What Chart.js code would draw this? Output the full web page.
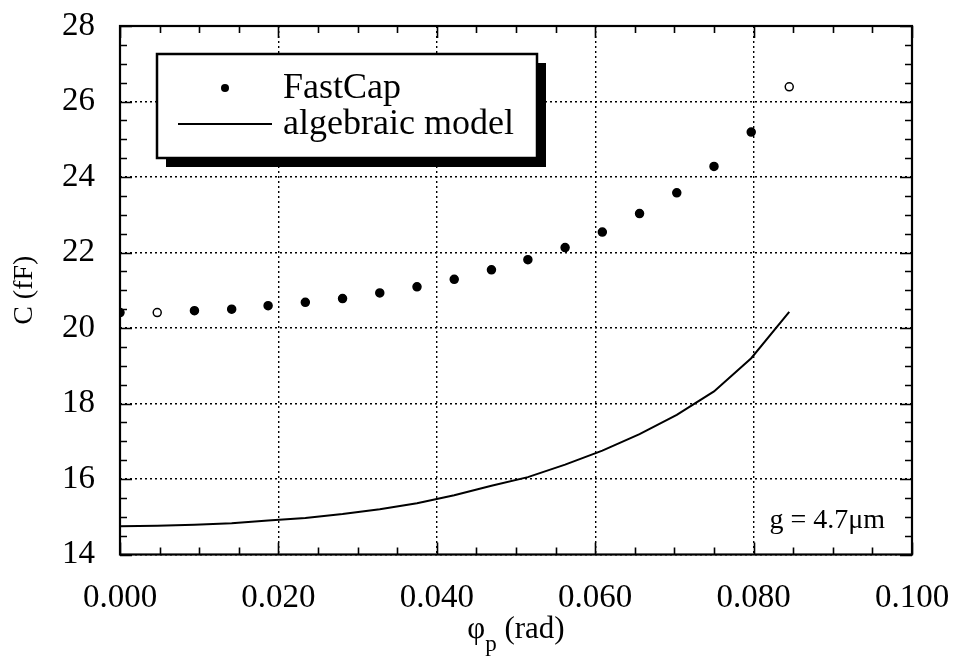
<!DOCTYPE html>
<html>
<head>
<meta charset="utf-8">
<script src="https://cdn.jsdelivr.net/npm/chart.js@4"></script>
<style>
  html, body { margin: 0; padding: 0; background: #fff; }
  #wrap { width: 954px; height: 659px; }
</style>
</head>
<body>
<div id="wrap"><canvas id="capChart" width="954" height="659"></canvas></div>
<script>
// --- data ---
const phiValues = [0.0000, 0.0047, 0.0094, 0.0141, 0.0187, 0.0234, 0.0281, 0.0328, 0.0375,
                   0.0422, 0.0469, 0.0515, 0.0562, 0.0609, 0.0656, 0.0703, 0.0750, 0.0797, 0.0845];
const fastCapValues = [20.41, 20.41, 20.46, 20.50, 20.59, 20.68, 20.78, 20.93, 21.09,
                       21.29, 21.54, 21.81, 22.13, 22.54, 23.03, 23.58, 24.28, 25.19, 26.39];
const modelValues = [14.75, 14.76, 14.79, 14.83, 14.90, 14.97, 15.07, 15.20, 15.36,
                     15.57, 15.82, 16.05, 16.38, 16.75, 17.19, 17.70, 18.32, 19.20, 20.43];
const xTicks = [0, 0.02, 0.04, 0.06, 0.08, 0.1];
const yTicks = [14, 16, 18, 20, 22, 24, 26, 28];
const seriesLabels = ['FastCap', 'algebraic model'];

const serif = "'Liberation Serif', 'DejaVu Serif', serif";

// hollow-looking dots in the scan (2nd and last)
const dotFill = fastCapValues.map((v, i) => (i === 1 || i === fastCapValues.length - 1) ? '#fff' : '#000');

// --- inward ticks (major + minor) on all four sides, and the frame ---
const innerTicks = {
    id: 'innerTicks',
    afterDatasetsDraw(chart) {
        const { ctx, chartArea: a, scales: { x, y } } = chart;
        ctx.save();
        ctx.strokeStyle = '#000';
        ctx.lineWidth = 1.6;
        ctx.beginPath();
        for (let v = 0; v <= 0.1 + 1e-9; v += 0.005) {
            const px = Math.round(x.getPixelForValue(v)) + 0.5;
            const major = Math.abs(v / 0.02 - Math.round(v / 0.02)) < 1e-6;
            const len = major ? 12 : 7;
            ctx.moveTo(px, a.bottom); ctx.lineTo(px, a.bottom - len);
            ctx.moveTo(px, a.top); ctx.lineTo(px, a.top + len);
        }
        for (let v = 14; v <= 28 + 1e-9; v += 0.5) {
            const py = Math.round(y.getPixelForValue(v)) + 0.5;
            const major = Math.abs(v / 2 - Math.round(v / 2)) < 1e-6;
            const len = major ? 12 : 7;
            ctx.moveTo(a.left, py); ctx.lineTo(a.left + len, py);
            ctx.moveTo(a.right, py); ctx.lineTo(a.right - len, py);
        }
        ctx.stroke();
        ctx.lineWidth = 2.2;
        ctx.strokeRect(a.left, a.top, a.right - a.left, a.bottom - a.top);
        ctx.restore();
    }
};

// --- boxed legend with heavy drop shadow, g label, x title with subscript ---
const boxLegend = {
    id: 'boxLegend',
    afterDraw(chart) {
        const { ctx, chartArea: a } = chart;
        const bx = 157, by = 54, bw = 380, bh = 104, sh = 9;
        ctx.save();
        ctx.fillStyle = '#000';
        ctx.fillRect(bx + sh, by + sh, bw, bh);
        ctx.fillStyle = '#fff';
        ctx.fillRect(bx, by, bw, bh);
        ctx.strokeStyle = '#000';
        ctx.lineWidth = 2.5;
        ctx.strokeRect(bx, by, bw, bh);

        ctx.fillStyle = '#000';
        ctx.beginPath();
        ctx.arc(225, 88, 4, 0, Math.PI * 2);
        ctx.fill();
        ctx.lineWidth = 1.8;
        ctx.beginPath();
        ctx.moveTo(178, 124); ctx.lineTo(272, 124);
        ctx.stroke();

        ctx.font = '36px ' + serif;
        ctx.textBaseline = 'alphabetic';
        ctx.textAlign = 'left';
        ctx.fillText(seriesLabels[0], 283, 98);
        ctx.fillText(seriesLabels[1], 283, 134);

        ctx.font = '28px ' + serif;
        ctx.textAlign = 'right';
        ctx.fillText('g = 4.7\u03bcm', a.right - 27, 528);

        // x axis title: phi with subscript p
        const big = '31px ' + serif, small = '23px ' + serif;
        ctx.font = big;
        const wPhi = ctx.measureText('\u03c6').width;
        const wRest = ctx.measureText(' (rad)').width;
        ctx.font = small;
        const wP = ctx.measureText('p').width;
        const total = wPhi + wP + wRest;
        let tx = (a.left + a.right) / 2 - total / 2;
        const base = 638;
        ctx.textAlign = 'left';
        ctx.font = big;
        ctx.fillText('\u03c6', tx, base);
        tx += wPhi;
        ctx.font = small;
        ctx.fillText('p', tx, base + 13);
        tx += wP;
        ctx.font = big;
        ctx.fillText(' (rad)', tx, base);
        ctx.restore();
    }
};

const ctx = document.getElementById('capChart').getContext('2d');
new Chart(ctx, {
    type: 'scatter',
    data: {
        datasets: [
            {
                label: seriesLabels[0],
                data: phiValues.map((x, i) => ({ x, y: fastCapValues[i] })),
                showLine: false,
                pointRadius: 4,
                pointBackgroundColor: dotFill,
                pointBorderColor: '#000',
                pointBorderWidth: 1.5
            },
            {
                label: seriesLabels[1],
                data: phiValues.map((x, i) => ({ x, y: modelValues[i] })),
                showLine: true,
                borderColor: '#000',
                borderWidth: 2,
                pointRadius: 0,
                tension: 0
            }
        ]
    },
    options: {
        responsive: false, animation: false,
        layout: { padding: { top: 26, right: 42, left: 0, bottom: 0 } },
        plugins: { legend: { display: false }, tooltip: { enabled: false } },
        scales: {
            x: {
                type: 'linear', min: 0, max: 0.1,
                afterBuildTicks: (s) => { s.ticks = xTicks.map(v => ({ value: v })); },
                // fixed height, and no extra room for the end labels
                afterFit: (s) => { s.height = 104.5; s.paddingLeft = 0; s.paddingRight = 0; },
                border: { display: false, dash: [2, 3] },
                grid: { color: '#000', lineWidth: 1.4, drawTicks: false },
                ticks: {
                    color: '#000', font: { family: serif, size: 33 }, padding: 24,
                    maxRotation: 0, callback: (v) => v.toFixed(3)
                },
                title: { display: false }
            },
            y: {
                type: 'linear', min: 14, max: 28,
                afterBuildTicks: (s) => { s.ticks = yTicks.map(v => ({ value: v })); },
                afterFit: (s) => { s.width = 120; s.paddingTop = 0; s.paddingBottom = 0; },
                border: { display: false, dash: [2, 3] },
                grid: { color: '#000', lineWidth: 1.4, drawTicks: false },
                ticks: { color: '#000', font: { family: serif, size: 33 }, padding: 25 },
                title: {
                    display: true, text: 'C (fF)', color: '#000',
                    font: { family: serif, size: 28 }, padding: { top: 8, bottom: 0 }
                }
            }
        }
    },
    plugins: [innerTicks, boxLegend]
});
</script>
</body>
</html>
